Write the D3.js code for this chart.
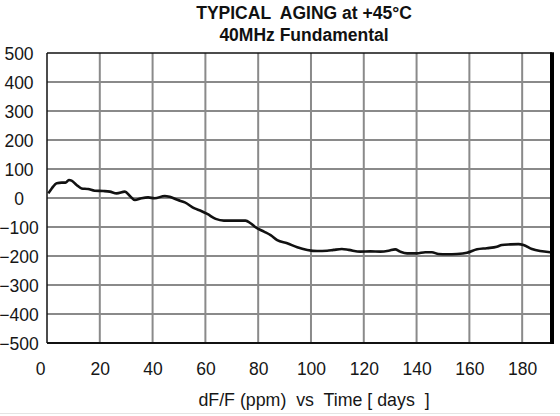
<!DOCTYPE html>
<html>
<head>
<meta charset="utf-8">
<script src="https://cdn.jsdelivr.net/npm/d3@7"></script>
<style>
  html, body { margin: 0; padding: 0; background: #fff; }
  svg { display: block; font-family: "Liberation Sans", Arial, Helvetica, sans-serif; }
</style>
</head>
<body>
<svg id="chart" width="560" height="416"></svg>
<script>
const titleLines = ["TYPICAL  AGING at +45°C", "40MHz Fundamental"];
const xLabel = "dF/F (ppm)  vs  Time [ days  ]";
const xTicks = [0, 20, 40, 60, 80, 100, 120, 140, 160, 180];
const yTicks = [500, 400, 300, 200, 100, 0, -100, -200, -300, -400, -500];
const days = [0.5, 1.8, 3.7, 5.6, 7, 8.3, 9.3, 11.2, 13.1, 15.6, 18.1, 21.3, 23.8, 26.4, 29.5, 31.4, 33.3, 35.8, 38.3, 40.8, 44.6, 46.5, 49.6, 52.2, 55.9, 58.2, 60.7, 63.9, 67, 70.8, 75.2, 77.1, 79, 82.2, 84.7, 87.2, 91, 94.8, 98.6, 102.3, 106.1, 108.6, 111.7, 114.3, 118.7, 122.5, 126.3, 129.4, 131.9, 133.8, 136.4, 140.1, 143.3, 145.8, 148.3, 151.5, 155.3, 159.1, 162.9, 166.6, 170.4, 172.3, 175.5, 178.6, 180.5, 183.7, 186.8, 190.6];
const ppm = [16, 33, 51, 53, 53, 62, 60, 45, 33, 31, 25, 24, 22, 16, 22, 7, -7, -1, 2, -1, 7, 4, -7, -15, -36, -44, -55, -72, -78, -78, -78, -87, -101, -116, -128, -145, -156, -170, -179, -183, -182, -179, -176, -179, -185, -184, -185, -182, -177, -185, -191, -191, -187, -187, -193, -194, -193, -189, -177, -173, -168, -162, -160, -159, -162, -176, -183, -187];

const svg = d3.select("#chart");
const L = 47, R = 552, T = 53, B = 343;
const x = d3.scaleLinear().domain([0, 191.3]).range([L, R]);
const y = d3.scaleLinear().domain([-500, 500]).range([B, T]);

// faint frame line at bottom of picture
svg.append("line").attr("x1", 0).attr("x2", 560).attr("y1", 413.5).attr("y2", 413.5)
  .attr("stroke", "#e4e4e4").attr("stroke-width", 1);

// title
svg.append("text").attr("x", 304).attr("y", 19).attr("text-anchor", "middle")
  .attr("font-size", 17.5).attr("font-weight", "bold").attr("fill", "#111")
  .style("white-space", "pre").text(titleLines[0]);
svg.append("text").attr("x", 304).attr("y", 41).attr("text-anchor", "middle")
  .attr("font-size", 17.5).attr("font-weight", "bold").attr("fill", "#111")
  .text(titleLines[1]);

// grid
const grid = svg.append("g");
grid.selectAll(".gx").data(xTicks.filter(d => d > 0)).enter().append("line")
  .attr("x1", d => x(d)).attr("x2", d => x(d)).attr("y1", T).attr("y2", B)
  .attr("stroke", "#8a8a8a").attr("stroke-width", 2);
grid.selectAll(".gy").data(yTicks.filter(d => d > -500 && d < 500)).enter().append("line")
  .attr("x1", L).attr("x2", R).attr("y1", d => y(d)).attr("y2", d => y(d))
  .attr("stroke", "#8a8a8a").attr("stroke-width", 2);

// axes via d3 (tick labels)
const xAxis = svg.append("g").attr("transform", `translate(0,${B})`)
  .call(d3.axisBottom(x).tickValues(xTicks).tickSize(0).tickPadding(0));
xAxis.select(".domain").remove();
xAxis.selectAll("text").attr("font-size", 17.5).attr("fill", "#161616")
  .attr("font-family", "Liberation Sans, Arial, sans-serif")
  .attr("y", 32).attr("dy", 0)
  .attr("dx", d => d === 0 ? -7 : 0);

const yAxis = svg.append("g").attr("transform", `translate(${L},0)`)
  .call(d3.axisLeft(y).tickValues(yTicks).tickSize(0).tickPadding(0));
yAxis.select(".domain").remove();
yAxis.selectAll("text").attr("font-size", 17.5).attr("fill", "#161616")
  .attr("font-family", "Liberation Sans, Arial, sans-serif")
  .attr("text-anchor", "middle").attr("x", 19 - L).attr("dy", "0.36em");

// border
svg.append("line").attr("x1", L).attr("x2", R).attr("y1", T).attr("y2", T)
  .attr("stroke", "#111").attr("stroke-width", 1.5);
svg.append("line").attr("x1", L).attr("x2", R).attr("y1", B).attr("y2", B)
  .attr("stroke", "#111").attr("stroke-width", 2);
svg.append("line").attr("x1", L).attr("x2", L).attr("y1", T).attr("y2", B)
  .attr("stroke", "#111").attr("stroke-width", 1.5);
svg.append("line").attr("x1", R).attr("x2", R).attr("y1", T - 0.75).attr("y2", B + 1)
  .attr("stroke", "#000").attr("stroke-width", 4);

// curve
svg.append("clipPath").attr("id", "clip").append("rect")
  .attr("x", L).attr("y", T).attr("width", R - L).attr("height", B - T);
const line = d3.line().x((d, i) => x(days[i])).y(d => y(d)).curve(d3.curveMonotoneX);
svg.append("path").datum(ppm).attr("d", line).attr("clip-path", "url(#clip)")
  .attr("fill", "none").attr("stroke", "#111").attr("stroke-width", 2.6)
  .attr("stroke-linejoin", "round");

// x label
svg.append("text").attr("x", 314).attr("y", 406).attr("text-anchor", "middle")
  .attr("font-size", 17.8).attr("fill", "#161616").style("white-space", "pre")
  .text(xLabel);
</script>
</body>
</html>
